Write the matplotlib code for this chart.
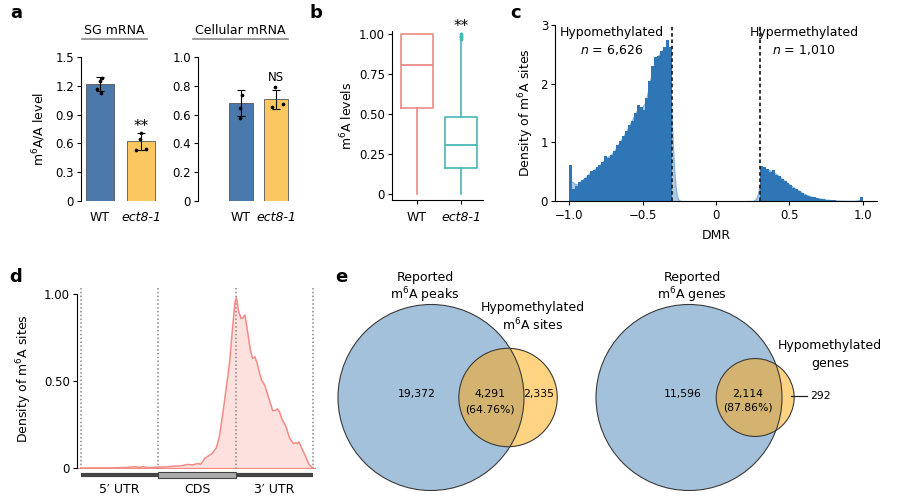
import numpy as np
import matplotlib
matplotlib.use('Agg')
import matplotlib.pyplot as plt
from matplotlib.patches import Circle, Rectangle
from matplotlib.lines import Line2D
from matplotlib.ticker import FixedLocator, FixedFormatter

plt.rcParams['font.family'] = ['DejaVu Sans']
plt.rcParams['font.size'] = 8.5
plt.rcParams['mathtext.fontset'] = 'dejavusans'
plt.rcParams['axes.linewidth'] = 0.8
plt.rcParams['xtick.major.width'] = 0.8
plt.rcParams['ytick.major.width'] = 0.8
plt.rcParams['xtick.major.size'] = 3
plt.rcParams['ytick.major.size'] = 3
plt.rcParams['axes.unicode_minus'] = True

# ---------------- data ----------------
# panel a
genotypes = ['WT', 'ect8-1']
sg_mean = [1.215, 0.62]
sg_err = [0.072, 0.092]
sg_points = [[1.28, 1.245, 1.17, 1.13], [0.71, 0.65, 0.535, 0.545]]
cell_mean = [0.68, 0.705]
cell_err = [0.088, 0.063]
cell_points = [[0.735, 0.645, 0.575], [0.79, 0.655, 0.675]]
sg_ticks = [0, 0.3, 0.6, 0.9, 1.2, 1.5]
sg_ticklabels = ['0', '0.3', '0.6', '0.9', '1.2', '1.5']
cell_ticks = [0, 0.2, 0.4, 0.6, 0.8, 1.0]
cell_ticklabels = ['0', '0.2', '0.4', '0.6', '0.8', '1.0']

# panel b (box statistics)
box_med = [0.81, 0.305]
box_q1 = [0.54, 0.16]
box_q3 = [1.0, 0.48]
box_lo = [0.0, 0.0]
box_hi = [1.0, 0.96]
box_fliers = [[], [0.97, 0.98, 0.99, 1.0]]
b_ticks = [0, 0.25, 0.5, 0.75, 1.0]
b_ticklabels = ['0', '0.25', '0.50', '0.75', '1.00']

# panel c (histogram densities, bin width 0.02)
hypo_start = -1.0
hypo_density = [0.62, 0.20, 0.26, 0.32, 0.36, 0.40, 0.45, 0.51, 0.53, 0.58,
                0.61, 0.66, 0.77, 0.74, 0.79, 0.86, 0.95, 1.02, 1.10, 1.20,
                1.30, 1.37, 1.50, 1.63, 1.60, 1.55, 1.75, 2.05, 2.30, 2.45,
                2.48, 2.55, 2.62, 2.75, 2.62]
hyper_start = 0.30
hyper_density = [0.60, 0.58, 0.55, 0.50, 0.52, 0.45, 0.42, 0.38, 0.34, 0.30,
                 0.27, 0.22, 0.20, 0.17, 0.13, 0.11, 0.09, 0.07, 0.06, 0.05,
                 0.04, 0.03, 0.025, 0.02, 0.015, 0.01, 0.008, 0.006, 0.005, 0.004,
                 0.004, 0.003, 0.003, 0.003, 0.06]
bin_w = 0.02
c_xticks = [-1.0, -0.5, 0, 0.5, 1.0]
c_xticklabels = ['\u22121.0', '\u22120.5', '0', '0.5', '1.0']
c_yticks = [0, 1, 2, 3]

# panel d (metagene)
meta_pos = [0.0, 0.1, 0.2, 0.3, 0.4, 0.5, 0.6, 0.7, 0.75, 0.8, 0.85, 0.9, 1.0,
            1.1, 1.2, 1.3, 1.37, 1.45, 1.5, 1.55, 1.6, 1.65, 1.7, 1.75, 1.79,
            1.83, 1.87, 1.92, 1.96, 1.99, 2.01, 2.04, 2.07, 2.09, 2.12, 2.15,
            2.19, 2.22, 2.25, 2.28, 2.30, 2.34, 2.36, 2.38, 2.43, 2.48, 2.51,
            2.54, 2.57, 2.6, 2.65, 2.7, 2.75, 2.78, 2.8, 2.82, 2.84, 2.89,
            2.95, 3.0]
meta_density = [0.0, 0.0, 0.0, 0.0, 0.0, 0.002, 0.003, 0.008, 0.003, 0.007,
                0.003, 0.002, 0.005, 0.006, 0.010, 0.012, 0.020, 0.018, 0.025,
                0.022, 0.055, 0.070, 0.085, 0.115, 0.18, 0.30, 0.43, 0.60, 0.80,
                0.95, 0.98, 0.90, 0.86, 0.86, 0.88, 0.80, 0.68, 0.63, 0.64, 0.60,
                0.56, 0.50, 0.49, 0.47, 0.40, 0.33, 0.33, 0.34, 0.32, 0.28, 0.24,
                0.17, 0.14, 0.145, 0.14, 0.15, 0.13, 0.08, 0.02, 0.0]
regions = ['5\u2032 UTR', 'CDS', '3\u2032 UTR']
d_ticks = [0, 0.5, 1.0]
d_ticklabels = ['0', '0.50', '1.00']

# panel e (venn counts)
peaks_only, peaks_both, sites_only = 19372, 4291, 2335
genes_only, genes_both, hypo_genes_only = 11596, 2114, 292

# ---------------- styles ----------------
C_WT = '#4b79ab'
C_ECT = '#fac760'
C_BOX_WT = '#ea8a86'
C_BOX_ECT = '#46b8b8'
C_HIST = '#2f76b7'
C_KDE = '#a8c9e8'
C_META = '#f28b85'
C_META_FILL = '#fde1df'
C_V_BLUE = '#a4c1dc'
C_V_YEL = '#fed381'
C_V_MIX = '#d3b36f'
FS = 9.0

W, H = 912, 504
fig = plt.figure(figsize=(W / 100, H / 100), dpi=100)


def axes_px(x0, y0, x1, y1):
    return fig.add_axes([x0 / W, 1 - y1 / H, (x1 - x0) / W, (y1 - y0) / H])


def ftext(x, y, s, **kw):
    return fig.text(x / W, 1 - y / H, s, **kw)


# panel letters
for lab, (px, py) in zip('abcde', [(16, 13), (316, 13), (516, 13), (16, 277), (341, 277)]):
    ftext(px, py, lab, fontsize=13, fontweight='bold', ha='center', va='center')


def bar_panel(ax, means, errs, points, ticks, ticklabels, ylim, xlim, offsets):
    x = np.arange(len(means))
    ax.bar(x, means, width=0.7, color=[C_WT, C_ECT], edgecolor='#555555', linewidth=0.6, zorder=2)
    ax.errorbar(x, means, yerr=errs, fmt='none', ecolor='black', elinewidth=0.8,
                capsize=3.2, capthick=0.8, zorder=3)
    for i, pts in enumerate(points):
        ax.scatter(np.full(len(pts), x[i]) + np.array(offsets[i][:len(pts)]), pts,
                   s=7, color='black', zorder=4, linewidths=0)
    ax.set_ylim(*ylim)
    ax.set_xlim(*xlim)
    ax.yaxis.set_major_locator(FixedLocator(ticks))
    ax.yaxis.set_major_formatter(FixedFormatter(ticklabels))
    ax.set_xticks(x)
    ax.set_xticklabels(genotypes, fontsize=FS)
    ax.get_xticklabels()[1].set_fontstyle('italic')
    ax.tick_params(axis='x', length=0, pad=7)
    ax.tick_params(axis='y', pad=2)
    for s in ['top', 'right', 'bottom']:
        ax.spines[s].set_visible(False)


# ---------------- panel a ----------------
ax_a1 = axes_px(81, 57, 157, 201)
bar_panel(ax_a1, sg_mean, sg_err, sg_points, sg_ticks, sg_ticklabels, (0, 1.5),
          (-0.46, 1.39), [[0.05, 0.0, -0.06, 0.03], [0.0, -0.03, -0.12, 0.12]])
ax_a1.set_ylabel('m$^6$A/A level', labelpad=5, fontsize=FS)
ax_a1.text(1, 0.70, '**', ha='center', va='bottom', fontsize=11)

ax_a2 = axes_px(198, 57, 292, 201)
bar_panel(ax_a2, cell_mean, cell_err, cell_points, cell_ticks, cell_ticklabels, (0, 1.0),
          (-1.23, 1.46), [[0.02, -0.02, -0.02], [-0.02, -0.12, 0.2]])
ax_a2.text(1, 0.81, 'NS', ha='center', va='bottom', fontsize=8.5)

ftext(114, 30, 'SG mRNA', ha='center', va='center', fontsize=FS)
ftext(240, 30, 'Cellular mRNA', ha='center', va='center', fontsize=FS)
fig.add_artist(Line2D([82 / W, 147 / W], [1 - 39 / H] * 2, color='#8a8a8a', lw=1.2))
fig.add_artist(Line2D([193 / W, 288 / W], [1 - 39 / H] * 2, color='#8a8a8a', lw=1.2))

# ---------------- panel b ----------------
ax_b = axes_px(392, 31, 483, 200)
stats = []
for i in range(2):
    stats.append(dict(med=box_med[i], q1=box_q1[i], q3=box_q3[i], whislo=box_lo[i],
                      whishi=box_hi[i], fliers=box_fliers[i]))
bp = ax_b.bxp(stats, positions=[1, 2], widths=0.73, showcaps=False, patch_artist=False)
for i, col in enumerate([C_BOX_WT, C_BOX_ECT]):
    bp['boxes'][i].set(color=col, linewidth=1.2)
    bp['medians'][i].set(color=col, linewidth=1.3)
    bp['whiskers'][2 * i].set(color=col, linewidth=1.2)
    bp['whiskers'][2 * i + 1].set(color=col, linewidth=1.2)
    bp['fliers'][i].set(marker='o', markersize=1.8, markerfacecolor=col,
                        markeredgecolor=col)
ax_b.set_xlim(0.43, 2.5)
ax_b.set_ylim(-0.0375, 1.02)
ax_b.yaxis.set_major_locator(FixedLocator(b_ticks))
ax_b.yaxis.set_major_formatter(FixedFormatter(b_ticklabels))
ax_b.set_xticks([1, 2])
ax_b.set_xticklabels(genotypes, fontsize=FS)
ax_b.get_xticklabels()[1].set_fontstyle('italic')
ax_b.tick_params(axis='x', pad=5)
ax_b.tick_params(axis='y', pad=2)
for s in ['top', 'right']:
    ax_b.spines[s].set_visible(False)
ax_b.set_ylabel('m$^6$A levels', labelpad=3, fontsize=FS)
ax_b.text(2, 1.0, '**', ha='center', va='bottom', fontsize=11, clip_on=False)

# ---------------- panel c ----------------
ax_c = axes_px(555, 25, 877, 201)
hypo_edges = hypo_start + bin_w * np.arange(len(hypo_density) + 1)
hyper_edges = hyper_start + bin_w * np.arange(len(hyper_density) + 1)


def kde_from_hist(edges, dens, lo, hi, bw=0.02):
    centers = 0.5 * (edges[:-1] + edges[1:])
    grid = np.linspace(lo, hi, 600)
    w = np.asarray(dens) * bin_w
    k = np.exp(-0.5 * ((grid[:, None] - centers[None, :]) / bw) ** 2) / (bw * np.sqrt(2 * np.pi))
    return grid, k @ w


g1, k1 = kde_from_hist(hypo_edges, hypo_density, -0.99, -0.2)
g2, k2 = kde_from_hist(hyper_edges, hyper_density, 0.2, 0.99)
ax_c.fill_between(g1, 0, k1, color=C_KDE, lw=0.8, edgecolor='#7fb0dc', zorder=1)
ax_c.fill_between(g2, 0, k2, color=C_KDE, lw=0.8, edgecolor='#7fb0dc', zorder=1)
ax_c.stairs(hypo_density, hypo_edges, fill=True, color=C_HIST, zorder=2)
ax_c.stairs(hyper_density, hyper_edges, fill=True, color=C_HIST, zorder=2)
ax_c.axvline(-0.3, color='#222222', ls=(0, (2, 1.5)), lw=1.3, zorder=3)
ax_c.axvline(0.3, color='#222222', ls=(0, (2, 1.5)), lw=1.3, zorder=3)
ax_c.set_xlim(-1.096, 1.096)
ax_c.set_ylim(0, 3)
ax_c.xaxis.set_major_locator(FixedLocator(c_xticks))
ax_c.xaxis.set_major_formatter(FixedFormatter(c_xticklabels))
ax_c.yaxis.set_major_locator(FixedLocator(c_yticks))
ax_c.tick_params(axis='x', pad=3)
ax_c.tick_params(axis='y', pad=2)
for s in ['top', 'right']:
    ax_c.spines[s].set_visible(False)
ax_c.set_ylabel('Density of m$^6$A sites', labelpad=3, fontsize=FS)
ax_c.set_xlabel('DMR', labelpad=5, fontsize=FS)
ax_c.text(-0.71, 2.88, 'Hypomethylated', ha='center', va='center', fontsize=FS)
ax_c.text(-0.71, 2.57, '$n$ = 6,626', ha='center', va='center', fontsize=FS)
ax_c.text(0.60, 2.88, 'Hypermethylated', ha='center', va='center', fontsize=FS)
ax_c.text(0.60, 2.57, '$n$ = 1,010', ha='center', va='center', fontsize=FS)

# ---------------- panel d ----------------
ax_d = axes_px(77, 288, 316, 469)
ax_d.fill_between(meta_pos, 0, meta_density, color=C_META_FILL, lw=0, zorder=1)
ax_d.plot(meta_pos, meta_density, color=C_META, lw=1.1, zorder=3)
ax_d.axhline(0, color=C_META, lw=0.9, zorder=2)
for xv in range(4):
    ax_d.axvline(xv, color='#888888', ls=(0, (1, 1.5)), lw=1.1, zorder=2)
ax_d.set_xlim(-0.052, 3.04)
ax_d.set_ylim(-0.006, 1.035)
ax_d.yaxis.set_major_locator(FixedLocator(d_ticks))
ax_d.yaxis.set_major_formatter(FixedFormatter(d_ticklabels))
ax_d.set_xticks([])
ax_d.tick_params(axis='y', pad=2)
for s in ['top', 'right', 'bottom']:
    ax_d.spines[s].set_visible(False)
ax_d.spines['left'].set_bounds(0, 1.0)
ax_d.set_ylabel('Density of m$^6$A sites', labelpad=7, fontsize=FS)
ax_d.plot([0, 3], [-0.04, -0.04], color='#444444', lw=3, solid_capstyle='butt', clip_on=False)
ax_d.add_patch(Rectangle((1, -0.058), 1, 0.036, facecolor='#ababab', edgecolor='#444444',
                         lw=0.8, clip_on=False, zorder=4))
for i, r in enumerate(regions):
    ax_d.text(i + 0.5, -0.125, r, ha='center', va='center', fontsize=FS, clip_on=False)

# ---------------- panel e ----------------
ax_e = axes_px(320, 260, 912, 504)
ax_e.set_xlim(320, 912)
ax_e.set_ylim(504, 260)
ax_e.axis('off')


def overlap_area(r1, r2, d):
    if d >= r1 + r2:
        return 0.0
    if d <= abs(r1 - r2):
        return np.pi * min(r1, r2) ** 2
    a = r1 ** 2 * np.arccos((d ** 2 + r1 ** 2 - r2 ** 2) / (2 * d * r1))
    b = r2 ** 2 * np.arccos((d ** 2 + r2 ** 2 - r1 ** 2) / (2 * d * r2))
    c = 0.5 * np.sqrt((-d + r1 + r2) * (d + r1 - r2) * (d - r1 + r2) * (d + r1 + r2))
    return a + b - c


def venn2(ax, only_a, both, only_b, cx, cy, R):
    tot_a = only_a + both
    tot_b = only_b + both
    r2 = R * np.sqrt(tot_b / tot_a)
    target = np.pi * R ** 2 * both / tot_a
    lo, hi = abs(R - r2) + 1e-6, R + r2
    for _ in range(80):
        mid = 0.5 * (lo + hi)
        if overlap_area(R, r2, mid) > target:
            lo = mid
        else:
            hi = mid
    d = 0.5 * (lo + hi)
    big = Circle((cx, cy), R, facecolor=C_V_BLUE, edgecolor='none', zorder=1)
    ax.add_patch(big)
    ax.add_patch(Circle((cx + d, cy), r2, facecolor=C_V_YEL, edgecolor='none', zorder=2))
    mix = Circle((cx + d, cy), r2, facecolor=C_V_MIX, edgecolor='none', zorder=3)
    ax.add_patch(mix)
    mix.set_clip_path(big)
    ax.add_patch(Circle((cx, cy), R, facecolor='none', edgecolor='#3a3a3a', lw=0.8, zorder=4))
    ax.add_patch(Circle((cx + d, cy), r2, facecolor='none', edgecolor='#3a3a3a', lw=0.8, zorder=4))
    return d, r2


venn2(ax_e, peaks_only, peaks_both, sites_only, 431, 397.5, 93)
venn2(ax_e, genes_only, genes_both, hypo_genes_only, 689, 397.5, 93)

fs_v = 7.8
ax_e.text(417, 394, f'{peaks_only:,}', ha='center', va='center', fontsize=fs_v, zorder=6)
ax_e.text(490, 394, f'{peaks_both:,}', ha='center', va='center', fontsize=fs_v, zorder=6)
ax_e.text(490, 409, f'({100 * peaks_both / (peaks_both + sites_only):.2f}%)', ha='center',
          va='center', fontsize=fs_v, zorder=6)
ax_e.text(539, 394, f'{sites_only:,}', ha='center', va='center', fontsize=fs_v, zorder=6)
ax_e.text(425, 278, 'Reported', ha='center', va='center', fontsize=FS, clip_on=False)
ax_e.text(425, 295, 'm$^6$A peaks', ha='center', va='center', fontsize=FS)
ax_e.text(533, 308, 'Hypomethylated', ha='center', va='center', fontsize=FS)
ax_e.text(533, 325, 'm$^6$A sites', ha='center', va='center', fontsize=FS)

ax_e.text(683, 394, f'{genes_only:,}', ha='center', va='center', fontsize=fs_v, zorder=6)
ax_e.text(748, 394, f'{genes_both:,}', ha='center', va='center', fontsize=fs_v, zorder=6)
ax_e.text(748, 408, f'({100 * genes_both / (genes_both + hypo_genes_only):.2f}%)', ha='center',
          va='center', fontsize=fs_v, zorder=6)
ax_e.plot([791, 807], [396, 396], color='#222222', lw=0.9, zorder=6)
ax_e.text(810, 396, f'{hypo_genes_only:,}', ha='left', va='center', fontsize=fs_v, zorder=6)
ax_e.text(692, 278, 'Reported', ha='center', va='center', fontsize=FS, clip_on=False)
ax_e.text(692, 295, 'm$^6$A genes', ha='center', va='center', fontsize=FS)
ax_e.text(830, 346, 'Hypomethylated', ha='center', va='center', fontsize=FS)
ax_e.text(830, 363, 'genes', ha='center', va='center', fontsize=FS)

fig.savefig('out.png', dpi=100)
